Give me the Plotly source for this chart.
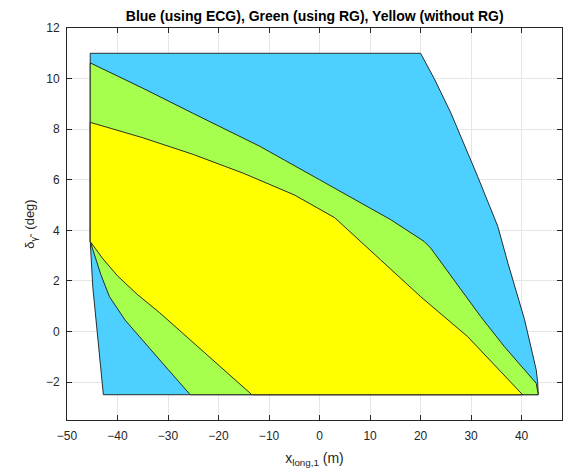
import plotly.graph_objects as go

# Region boundaries (x_long,1 in m, delta in deg)
blue_x = [-45.4, 20.0, 22.7, 26.0, 31.3, 35.3, 37.3, 40.6, 42.9, 43.2, 43.3, -42.8, -44.9, -45.4, -45.4]
blue_y = [11.0, 11.0, 10.0, 8.64, 6.13, 4.15, 2.70, 0.46, -1.52, -2.05, -2.5, -2.5, 1.77, 3.56, 11.0]

green_x = [-45.4, -35.0, -25.0, -11.8, 0.0, 14.1, 20.7, 22.0, 26.6, 31.9, 36.6, 41.2, 42.9, 43.3,
           -25.6, -30.0, -35.0, -38.5, -41.6, -43.3, -45.4, -45.4]
green_y = [10.62, 9.62, 8.62, 7.32, 6.00, 4.42, 3.56, 3.30, 2.04, 0.59, -0.60, -1.66, -2.05, -2.5,
           -2.5, -1.50, -0.34, 0.45, 1.38, 2.25, 3.56, 10.62]

yellow_x = [-45.4, -35.0, -25.0, -15.0, -5.0, 3.0, 12.1, 20.0, 29.3, 40.2,
            -13.4, -19.0, -25.0, -31.7, -36.0, -40.0, -43.0, -45.4, -45.4]
yellow_y = [8.27, 7.66, 7.00, 6.25, 5.40, 4.50, 2.83, 1.38, -0.20, -2.5,
            -2.5, -1.50, -0.45, 0.75, 1.45, 2.20, 2.90, 3.56, 8.27]

x_ticks = [-50, -40, -30, -20, -10, 0, 10, 20, 30, 40]
y_ticks = [-2, 0, 2, 4, 6, 8, 10, 12]

FONT = "Liberation Sans, Arial"

fig = go.Figure()
for xs, ys, col, name in [(blue_x, blue_y, "#4DD0FF", "ECG"),
                          (green_x, green_y, "#A6FF4D", "RG"),
                          (yellow_x, yellow_y, "#FFFF00", "without RG")]:
    fig.add_trace(go.Scatter(x=xs, y=ys, mode="lines", fill="toself", fillcolor=col,
                             line=dict(color="#1a1a1a", width=0.9), name=name, hoverinfo="skip"))

axis_common = dict(showline=True, linecolor="#262626", linewidth=1, mirror="ticks",
                   ticks="inside", ticklen=5, tickcolor="#262626", showgrid=True,
                   gridcolor="#e6e6e6", gridwidth=1, zeroline=False,
                   tickfont=dict(family=FONT, size=12, color="#262626"))

fig.update_layout(
    width=568, height=476,
    margin=dict(l=67, r=6, t=28, b=56),
    plot_bgcolor="white", paper_bgcolor="white",
    showlegend=False,
    title=dict(text="<b>Blue (using ECG), Green (using RG), Yellow (without RG)</b>",
               x=0.554, xanchor="center", y=0.977, yanchor="top",
               font=dict(family=FONT, size=14, color="black")),
    xaxis=dict(range=[-50, 48], tickvals=x_ticks, ticklabelstandoff=5,
               title=dict(text="x<sub>long,1</sub> (m)", standoff=10,
                          font=dict(family=FONT, size=14, color="#262626")),
               **axis_common),
    yaxis=dict(range=[-3.5, 12], tickvals=y_ticks, ticklabelstandoff=4,
               title=dict(text="δ<sub>γ̃</sub>\u00a0\u00a0(deg)", standoff=8,
                          font=dict(family=FONT, size=13, color="#262626")),
               **axis_common),
)

fig.write_html("out.html")
